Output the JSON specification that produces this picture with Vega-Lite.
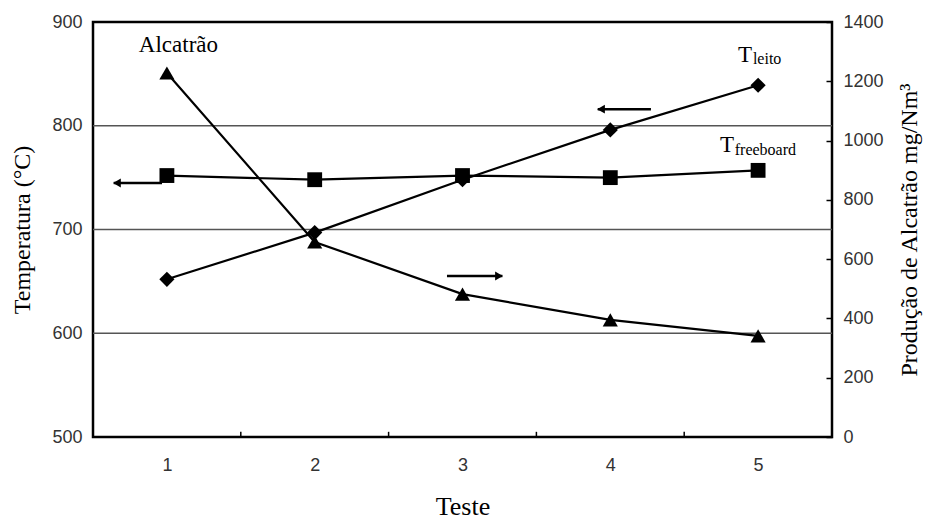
{
  "$schema": "https://vega.github.io/schema/vega-lite/v6.json",
  "width": 739,
  "height": 415,
  "autosize": "none",
  "padding": {"left": 93, "top": 22, "right": 93, "bottom": 84},
  "background": "white",
  "config": {
    "view": {"stroke": "black", "strokeWidth": 2.5},
    "font": "Liberation Sans",
    "axisBottom": {
      "grid": false, "ticks": false, "domain": false, "format": "d",
      "labelFont": "Liberation Sans", "labelFontSize": 18, "labelColor": "#333333",
      "labelPadding": 19,
      "titleFont": "Liberation Serif", "titleFontSize": 26, "titleFontWeight": "normal",
      "titleColor": "black", "titlePadding": 19
    },
    "axisLeft": {
      "grid": false, "ticks": false, "domain": false, "format": "d",
      "labelFont": "Liberation Sans", "labelFontSize": 18, "labelColor": "#333333",
      "labelPadding": 11,
      "titleFont": "Liberation Serif", "titleFontSize": 24, "titleFontWeight": "normal",
      "titleColor": "black", "titlePadding": 17
    },
    "axisRight": {
      "grid": false, "ticks": true, "tickSize": -6, "tickColor": "black", "tickWidth": 1.5,
      "domain": false, "format": "d",
      "labelFont": "Liberation Sans", "labelFontSize": 18, "labelColor": "#333333",
      "labelPadding": 17,
      "titleFont": "Liberation Serif", "titleFontSize": 24, "titleFontWeight": "normal",
      "titleColor": "black", "titlePadding": 14, "titleAngle": 270, "titleBaseline": "top"
    }
  },
  "datasets": {
    "temps": [
      {"teste": 1, "serie": "leito", "temp": 652},
      {"teste": 2, "serie": "leito", "temp": 697},
      {"teste": 3, "serie": "leito", "temp": 748},
      {"teste": 4, "serie": "leito", "temp": 796},
      {"teste": 5, "serie": "leito", "temp": 839},
      {"teste": 1, "serie": "freeboard", "temp": 752},
      {"teste": 2, "serie": "freeboard", "temp": 748},
      {"teste": 3, "serie": "freeboard", "temp": 752},
      {"teste": 4, "serie": "freeboard", "temp": 750},
      {"teste": 5, "serie": "freeboard", "temp": 757}
    ],
    "alc": [
      {"teste": 1, "alcatrao": 1228},
      {"teste": 2, "alcatrao": 658},
      {"teste": 3, "alcatrao": 482},
      {"teste": 4, "alcatrao": 395},
      {"teste": 5, "alcatrao": 341}
    ],
    "grid": [{"v": 600}, {"v": 700}, {"v": 800}],
    "minor": [{"x": 1.5}, {"x": 2.5}, {"x": 3.5}, {"x": 4.5}],
    "arrows": [
      {"x1": 0.64, "x2": 0.967, "y": 744.8},
      {"x1": 3.915, "x2": 4.275, "y": 816},
      {"x1": 2.895, "x2": 3.27, "y": 655.2}
    ],
    "heads": [
      {"x": 0.662, "y": 744.8, "dir": "left"},
      {"x": 3.937, "y": 816, "dir": "left"},
      {"x": 3.247, "y": 655.2, "dir": "right"}
    ],
    "labels": [
      {"txt": "Alcatrão", "x": 0.81, "y": 871, "kind": "main"},
      {"txt": "T", "x": 4.864, "y": 861.4, "kind": "main"},
      {"txt": "leito", "x": 4.965, "y": 859.5, "kind": "sub"},
      {"txt": "T", "x": 4.742, "y": 774.7, "kind": "main"},
      {"txt": "freeboard", "x": 4.842, "y": 771.8, "kind": "sub"}
    ]
  },
  "layer": [
    {
      "encoding": {},
      "layer": [
        {
          "data": {"name": "grid"},
          "mark": {"type": "rule", "color": "#555555", "strokeWidth": 1.5},
          "encoding": {
            "y": {
              "field": "v", "type": "quantitative", "title": "Temperatura (°C)",
              "scale": {"domain": [500, 900], "nice": false, "zero": false},
              "axis": {"values": [500, 600, 700, 800, 900]}
            }
          }
        },
        {
          "data": {"name": "minor"},
          "mark": {"type": "rule", "color": "black", "strokeWidth": 1.5},
          "encoding": {
            "x": {
              "field": "x", "type": "quantitative", "title": "Teste",
              "scale": {"domain": [0.5, 5.5], "nice": false, "zero": false},
              "axis": {"values": [1, 2, 3, 4, 5]}
            },
            "y": {"datum": 500, "type": "quantitative", "title": "Temperatura (°C)"},
            "y2": {"datum": 505}
          }
        },
        {
          "data": {"name": "temps"},
          "mark": {"type": "line", "color": "black", "strokeWidth": 2.2},
          "encoding": {
            "x": {"field": "teste", "type": "quantitative", "title": "Teste"},
            "y": {"field": "temp", "type": "quantitative", "title": "Temperatura (°C)"},
            "detail": {"field": "serie"}
          }
        },
        {
          "data": {"name": "temps"},
          "transform": [{"filter": "datum.serie === 'leito'"}],
          "mark": {"type": "point", "shape": "diamond", "filled": true, "color": "black", "opacity": 1, "size": 230},
          "encoding": {
            "x": {"field": "teste", "type": "quantitative", "title": "Teste"},
            "y": {"field": "temp", "type": "quantitative", "title": "Temperatura (°C)"}
          }
        },
        {
          "data": {"name": "temps"},
          "transform": [{"filter": "datum.serie === 'freeboard'"}],
          "mark": {"type": "point", "shape": "square", "filled": true, "color": "black", "opacity": 1, "size": 220},
          "encoding": {
            "x": {"field": "teste", "type": "quantitative", "title": "Teste"},
            "y": {"field": "temp", "type": "quantitative", "title": "Temperatura (°C)"}
          }
        },
        {
          "data": {"name": "arrows"},
          "mark": {"type": "rule", "color": "black", "strokeWidth": 2.5},
          "encoding": {
            "x": {"field": "x1", "type": "quantitative", "title": "Teste"},
            "x2": {"field": "x2"},
            "y": {"field": "y", "type": "quantitative", "title": "Temperatura (°C)"}
          }
        },
        {
          "data": {"name": "heads"},
          "transform": [{"filter": "datum.dir === 'left'"}],
          "mark": {"type": "point", "shape": "triangle-left", "filled": true, "color": "black", "opacity": 1, "size": 80},
          "encoding": {
            "x": {"field": "x", "type": "quantitative", "title": "Teste"},
            "y": {"field": "y", "type": "quantitative", "title": "Temperatura (°C)"}
          }
        },
        {
          "data": {"name": "heads"},
          "transform": [{"filter": "datum.dir === 'right'"}],
          "mark": {"type": "point", "shape": "triangle-right", "filled": true, "color": "black", "opacity": 1, "size": 80},
          "encoding": {
            "x": {"field": "x", "type": "quantitative", "title": "Teste"},
            "y": {"field": "y", "type": "quantitative", "title": "Temperatura (°C)"}
          }
        },
        {
          "data": {"name": "labels"},
          "transform": [{"filter": "datum.kind === 'main'"}],
          "mark": {"type": "text", "font": "Liberation Serif", "fontSize": 23, "align": "left", "baseline": "alphabetic", "color": "black"},
          "encoding": {
            "x": {"field": "x", "type": "quantitative", "title": "Teste"},
            "y": {"field": "y", "type": "quantitative", "title": "Temperatura (°C)"},
            "text": {"field": "txt"}
          }
        },
        {
          "data": {"name": "labels"},
          "transform": [{"filter": "datum.kind === 'sub'"}],
          "mark": {"type": "text", "font": "Liberation Serif", "fontSize": 16, "align": "left", "baseline": "alphabetic", "color": "black"},
          "encoding": {
            "x": {"field": "x", "type": "quantitative", "title": "Teste"},
            "y": {"field": "y", "type": "quantitative", "title": "Temperatura (°C)"},
            "text": {"field": "txt"}
          }
        }
      ]
    },
    {
      "data": {"name": "alc"},
      "encoding": {},
      "layer": [
        {
          "mark": {"type": "line", "color": "black", "strokeWidth": 2.2},
          "encoding": {
            "x": {"field": "teste", "type": "quantitative", "title": "Teste"},
            "y": {
              "field": "alcatrao", "type": "quantitative", "title": "Produção de Alcatrão mg/Nm³",
              "scale": {"domain": [0, 1400], "nice": false},
              "axis": {"orient": "right", "values": [0, 200, 400, 600, 800, 1000, 1200, 1400]}
            }
          }
        },
        {
          "mark": {"type": "point", "shape": "triangle-up", "filled": true, "color": "black", "opacity": 1, "size": 230},
          "encoding": {
            "x": {"field": "teste", "type": "quantitative", "title": "Teste"},
            "y": {"field": "alcatrao", "type": "quantitative", "title": "Produção de Alcatrão mg/Nm³", "axis": {"orient": "right"}}
          }
        }
      ]
    }
  ],
  "resolve": {"scale": {"y": "independent"}}
}
